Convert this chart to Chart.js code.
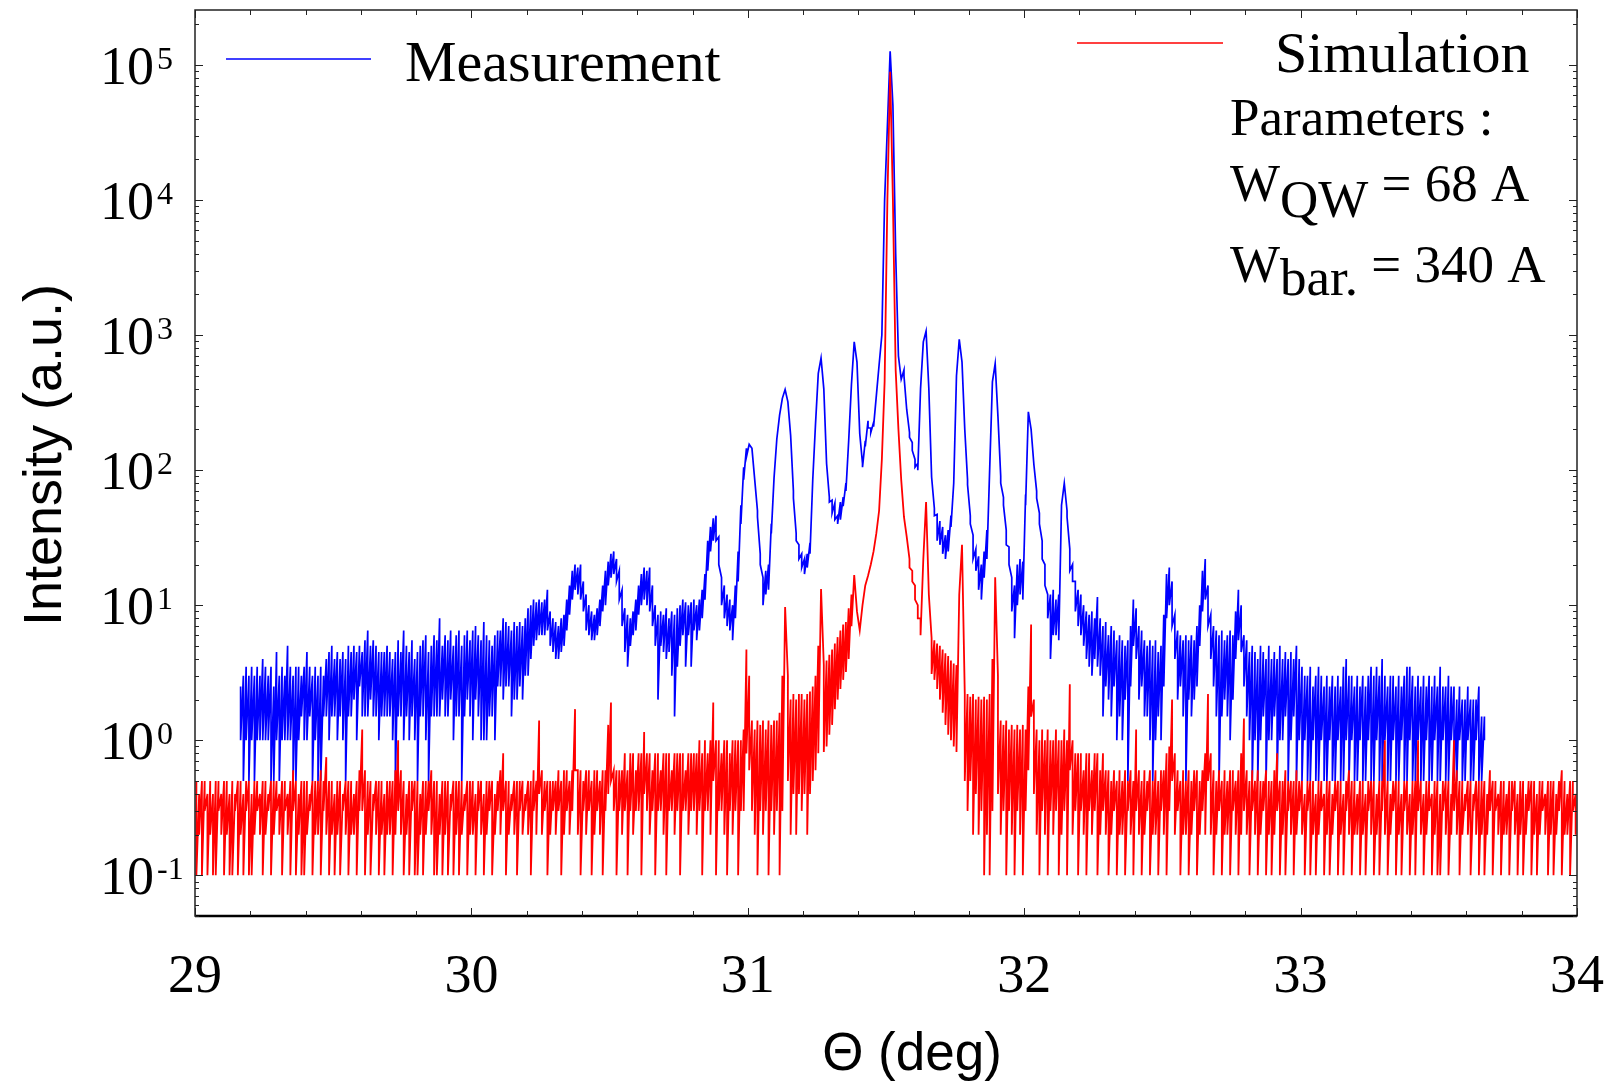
<!DOCTYPE html>
<html>
<head>
<meta charset="utf-8">
<title>XRD scan</title>
<script src="https://cdn.jsdelivr.net/npm/chart.js@4.4.0/dist/chart.umd.min.js"></script>
<style>
  html, body { margin: 0; padding: 0; background: #fff; }
  #wrap { width: 1609px; height: 1081px; }
</style>
</head>
<body>
<div id="wrap"><canvas id="chart" width="1609" height="1081"></canvas></div>
<script>
// Sampling grid of the scans (deg): one hi/lo pair every 0.01 deg
const thetaStep = 0.01;
const measStart = 29.165;
const simStart = 29.005;

// Axis labels
const xTickLabels = ['29', '30', '31', '32', '33', '34'];
const yTickExponents = ['-1', '0', '1', '2', '3', '4', '5'];

// Measurement (blue): upper and lower edge of the trace in each 0.01 deg step
const measHi29 = [2.5,3.0,3.5,3.0,3.5,3.0,3.5,3.0,4.0,3.5,
  3.0,3.5,2.5,4.5,3.0,3.5,3.0,5.0,3.5,3.0,
  3.5,3.5,3.0,3.5,4.5,3.5,3.0,3.5,3.0,3.5,
  3.0,4.0,4.5,5.0,4.0,4.5,4.0,4.5,4.0,5.0,
  4.5,5.0,4.5,5.0,4.5,5.5,6.5,5.0,5.5,5.0,
  4.5,4.5,4.5,5.0,4.5,4.0,4.5,5.5,4.5,6.5,
  5.0,4.5,5.5,4.0,4.5,5.0,5.5,6.0,4.5,5.0,
  6.0,5.5,8.0,5.0,6.0,5.5,6.5,5.0,6.0,6.5,
  5.0,6.0,6.5,5.5];
const measLo29 = [1.0,0.5,1.0,0.5,1.0,0.5,1.0,1.0,1.0,1.0,
  1.0,0.5,0.5,1.0,0.5,1.0,1.0,1.0,1.0,0.5,
  0.5,1.0,1.5,1.0,1.0,1.5,0.5,1.0,0.5,0.5,
  1.5,1.5,1.0,1.5,1.5,1.0,1.5,1.0,0.5,1.5,
  1.5,2.0,1.0,2.5,1.5,1.5,1.5,2.0,1.5,1.5,
  1.0,1.5,1.5,1.5,1.5,1.0,0.5,1.5,1.5,1.0,
  1.5,1.0,1.5,1.0,0.5,1.5,1.5,1.0,0.5,1.5,
  1.5,1.5,1.5,2.0,1.5,1.5,2.0,1.0,1.5,1.5,
  0.5,1.5,2.0,1.5];

const measHi30 = [6.5,7.0,6.0,5.5,7.5,6.0,5.5,5.0,6.0,6.5,
  6.5,8.0,7.5,7.0,6.5,7.5,7.0,7.5,7.0,8.0,
  9.5,10,11,10.5,11,10.5,11,13,9,8,
  7.5,7,8,8.5,11,14,18,20,19,20,
  15,12,10,9,8.5,9.5,11,14,18,21,
  24,25,22,18,13,9.5,8.5,8,9,11,
  14,17,19,18,19,14,10,8.5,9,8.5,
  9.5,8,9,8.5,9.5,10,11,10.5,10,10.5,
  11,10,11,13,17,30,38,44,46,32,
  16,14,12,11,10,14,25,55,105,145];
const measLo30 = [1.0,2.0,1.5,1.0,1.0,1.0,1.5,1.5,1.0,2.5,
  2.5,2.0,2.5,2.5,1.5,2.0,2.0,2.5,2.0,3.0,
  3.0,4.0,5.0,5.5,6.0,6.0,6.0,6.5,5.0,4.5,
  4.0,4.0,4.5,5.0,6.5,8.5,11,13,12,11,
  9,6.5,6,5.5,5.5,6,7,9,10,14,
  16,17,15,11,7,4.5,3.5,5,6,6.5,
  8.5,10,11,10,9,7,5,2,5,4.5,
  4,4.5,3,1.5,3.5,5,6,3.5,6,3.5,
  6.5,5.5,6.5,8,11,18,25,30,30,20,
  10,8,7,6.5,5.5,8,15,40,85,125];

const measHi31 = [155,145,85,50,24,16,18,20,40,88,
  170,255,340,395,320,180,70,34,28,24,
  22,24,29,85,220,520,676,400,112,63,
  60,57,46,58,63,80,165,430,890,630,
  186,112,165,232,205,225,355,600,1000,10000,
  35000,126000,50000,4000,700,470,550,280,190,160,
  120,112,400,890,1070,400,89,52,47,42,
  38,33,36,46,80,500,930,630,200,85,
  46,33,26,23,20,25,36,100,450,615,
  250,90,63,36,27,16,14,20,22,21];
const measLo31 = [null,null,null,45,20,10,12,13,34,null,
  null,null,null,null,null,null,62,30,22,19,
  17,19,24,null,null,null,null,null,null,58,
  48,43,40,43,54,70,null,null,null,null,
  null,105,150,205,190,210,null,null,null,null,
  null,null,null,null,null,null,500,null,175,140,
  105,100,null,null,null,null,null,46,30,28,
  24,22,25,38,null,null,null,null,null,78,
  40,22,18,13,11,16,22,null,null,null,
  null,80,55,28,20,9,5.7,10,12,11];

const measHi32 = [66,270,200,110,70,48,30,20,12,12,
  13,11,12,55,80,50,26,20,15,13,
  12,10,9,8.5,9,8,11.5,8,7,7.5,
  6,7,6.5,5.5,6,5.5,5,5.5,7,11,
  9.5,7,6.5,5.5,5,5.5,5,5.5,4.5,5,
  8.5,17,19,15,8.5,6.5,6,5.5,6,5.5,
  6,5.5,7,10,18,22,14,8.5,7,6.5,
  6,6.5,5.5,6,6.5,6,9,13,10,6,
  5.5,4.5,5,4.5,4,5,4.5,4,5,4,
  4.5,4,5,4,4.5,4,4.5,4,5,4];
const measLo32 = [55,null,null,null,62,40,22,14,8,4,
  6,6,5.5,null,null,45,18,15,9,7,
  6,5,4,3.5,3,4,3.5,3,1.5,2.5,
  2,1.5,2.5,1,1.5,1,2,0.5,2.5,5,
  4,2,2.5,1.5,1.5,1,0.5,1,1.5,1,
  2.5,8,10,7,4,2,2.5,1.5,0.5,2,
  1.5,2,2.5,5,9,11,7,4,2.5,1.5,
  0.5,1.5,2,1.5,1,2,4,5.5,4.5,2.5,
  1.5,1,0.5,1,0.5,1,1.5,0.5,1,1,
  1.5,0.5,1,1,1.5,0.5,1,1.5,0.5,1];

const measHi33 = [3.5,3.0,3.0,3.5,2.5,3.0,3.5,3.0,2.5,3.0,
  2.5,3.0,2.5,3.0,2.5,3.5,4.0,3.0,3.0,2.5,
  3.0,2.5,3.0,2.5,3.0,3.5,3.0,3.5,3.0,4.0,
  3.0,2.5,3.0,3.0,2.5,3.0,2.5,3.0,3.5,3.5,
  3.0,2.5,3.0,2.5,3.0,2.5,3.0,2.5,3.0,2.5,
  3.5,2.5,2.5,3.0,2.5,2.5,2.0,2.5,2.0,2.0,
  2.5,2.0,2.0,2.0,2.5,1.5,1.5];
const measLo33 = [0.5,1.0,0.5,0.5,1.0,0.5,0.5,1.0,0.5,0.5,
  1.0,0.5,0.5,1.0,0.5,0.5,1.0,0.5,1.0,0.5,
  0.5,1.0,0.5,0.5,1.0,0.5,0.5,1.0,0.5,0.5,
  1.0,0.5,0.5,1.0,0.5,0.5,1.0,0.5,0.5,1.0,
  0.5,0.5,1.0,0.5,0.5,1.0,0.5,0.5,1.0,0.5,
  0.5,1.0,0.5,0.5,1.0,0.5,0.5,1.0,0.5,0.5,
  1.0,0.5,0.5,1.0,0.5,0.5,1.0];

// Simulation (red): upper and lower edge of the trace in each 0.01 deg step
const simHi29 = [0.5,0.4,0.5,0.5,0.4,0.5,0.4,0.5,0.5,0.4,
  0.5,0.5,0.4,0.5,0.4,0.5,0.5,0.4,0.5,0.5,
  0.4,0.5,0.5,0.4,0.5,0.5,0.4,0.5,0.5,0.5,
  0.4,0.5,0.5,0.4,0.5,0.6,0.5,0.4,0.5,0.5,
  0.5,0.4,0.5,0.5,0.5,0.6,0.5,0.75,0.5,0.5,
  0.4,0.5,0.5,0.4,0.5,0.5,0.5,0.4,0.5,0.6,
  1.2,0.6,0.5,0.5,0.4,0.5,0.5,0.5,0.4,0.5,
  0.5,0.5,0.6,1.0,0.6,0.5,0.4,0.5,0.5,0.5,
  0.5,0.4,0.5,0.5,0.5,0.6,0.5,0.5,0.4,0.5,
  0.5,0.5,0.4,0.5,0.5,0.5,0.5,0.4,0.5,0.5];
const simLo29 = [0.1,0.2,0.1,0.3,0.1,0.2,0.1,0.1,0.3,0.2,
  0.1,0.2,0.1,0.1,0.3,0.1,0.2,0.1,0.3,0.1,
  0.1,0.2,0.3,0.2,0.1,0.2,0.3,0.1,0.2,0.3,
  0.2,0.1,0.3,0.2,0.1,0.3,0.1,0.2,0.1,0.1,
  0.2,0.3,0.1,0.2,0.2,0.1,0.3,0.2,0.1,0.2,
  0.1,0.2,0.1,0.3,0.2,0.1,0.2,0.2,0.1,0.3,
  0.3,0.1,0.2,0.1,0.3,0.2,0.1,0.2,0.1,0.2,
  0.2,0.1,0.2,0.3,0.2,0.1,0.2,0.1,0.3,0.1,
  0.1,0.2,0.1,0.2,0.3,0.2,0.1,0.1,0.2,0.1,
  0.2,0.1,0.3,0.1,0.2,0.1,0.2,0.3,0.1,0.2];

const simHi30 = [0.5,0.4,0.5,0.5,0.4,0.5,0.5,0.5,0.4,0.5,
  0.6,0.8,0.5,0.5,0.4,0.5,0.5,0.5,0.5,0.4,
  0.5,0.5,0.6,0.5,1.4,0.6,0.5,0.5,0.5,0.5,
  0.5,0.6,0.5,0.6,0.6,0.5,0.6,1.7,0.6,0.6,
  0.5,0.6,0.6,0.5,0.6,0.6,0.5,0.6,0.6,1.3,
  1.9,0.6,0.6,0.6,0.6,0.8,0.6,0.8,0.8,0.6,
  0.8,0.8,1.15,0.8,0.8,0.6,0.8,0.8,0.6,0.8,
  0.8,0.8,0.6,0.8,0.8,0.8,0.8,0.6,0.8,0.8,
  0.8,0.8,1.0,0.8,1.0,0.8,1.0,1.9,1.0,1.0,
  0.8,1.0,1.0,0.8,1.0,1.0,1.0,1.0,1.2,4.7];
const simLo30 = [0.2,0.1,0.3,0.2,0.1,0.2,0.3,0.1,0.2,0.3,
  0.2,0.3,0.1,0.2,0.3,0.2,0.1,0.3,0.2,0.3,
  0.2,0.1,0.3,0.2,0.4,0.2,0.3,0.1,0.2,0.3,
  0.2,0.3,0.1,0.2,0.3,0.2,0.3,0.6,0.2,0.1,
  0.3,0.2,0.3,0.1,0.2,0.3,0.2,0.1,0.3,0.4,
  0.5,0.3,0.1,0.3,0.2,0.3,0.1,0.3,0.2,0.3,
  0.3,0.1,0.4,0.3,0.2,0.3,0.1,0.3,0.3,0.2,
  0.1,0.3,0.3,0.2,0.3,0.1,0.3,0.3,0.2,0.3,
  0.3,0.2,0.3,0.1,0.3,0.3,0.2,0.5,0.1,0.3,
  0.3,0.2,0.1,0.3,0.2,0.3,0.1,0.3,0.3,0.8];

const simHi31 = [3.0,1.4,1.2,1.4,1.3,1.4,1.2,1.4,1.3,1.4,
  1.4,1.6,3.0,9.7,3.0,2.0,2.2,2.0,2.2,2.2,
  2.0,2.2,2.3,2.5,3.0,5.0,13.2,3.6,3.9,4.3,
  4.7,5.2,5.8,6.5,7.2,7.5,9.5,12,16.7,9,
  6.5,10,14,16.5,20,25,34,50,120,450,
  10000,89000,10000,550,200,85,45,32,22,18,
  14,10,8,22,58,12,5.7,5.5,5.2,5.0,
  4.7,4.4,4.2,3.9,3.7,3.6,12,28,2.2,2.2,
  2.1,2.2,2.0,2.1,2.0,2.1,2.0,2.2,4.0,16.1,
  3.0,1.4,1.3,1.4,1.2,1.3,1.2,1.3,1.2,1.3];
const simLo31 = [0.6,0.3,0.2,0.1,0.3,0.2,0.3,0.1,0.3,0.2,
  0.3,0.1,0.3,null,0.5,0.2,0.4,0.2,0.4,0.3,
  0.4,0.2,0.4,0.5,0.6,0.8,null,0.82,0.9,1.1,
  1.3,1.7,2.0,2.4,2.8,3.2,4.0,7,null,null,
  null,null,null,null,null,null,null,null,null,null,
  null,null,null,null,null,null,null,null,19,15,
  11,8,6,null,null,null,3.1,2.8,2.4,2.0,
  1.6,1.3,1.1,1.0,0.9,0.82,null,null,0.5,0.3,
  0.5,0.2,0.4,0.2,0.3,0.1,0.2,0.1,0.3,null,
  0.4,0.2,0.3,0.1,0.3,0.2,0.1,0.3,0.2,0.1];

const simHi32 = [1.2,2.5,7.2,2.0,1.2,1.0,1.2,1.0,1.2,1.0,
  1.0,1.2,1.0,1.0,1.2,1.0,2.6,1.0,0.8,0.8,
  0.8,0.6,0.8,0.8,0.6,0.8,0.8,0.6,0.8,0.6,
  0.6,0.5,0.6,0.5,0.6,0.5,0.6,0.5,0.6,0.5,
  1.2,0.6,0.5,0.6,0.5,0.6,0.5,0.6,0.5,0.6,
  0.6,0.8,0.9,2.0,0.8,0.6,0.5,0.6,0.5,0.6,
  0.5,0.6,0.6,0.5,0.6,0.8,2.2,0.8,0.6,0.5,
  0.6,0.5,0.6,0.5,0.6,0.6,0.5,0.6,0.8,1.45,
  0.6,0.5,0.6,0.5,0.6,0.5,0.5,0.6,0.5,0.5,
  0.6,0.8,0.5,0.5,0.6,0.5,0.5,0.5,0.6,0.5];
const simLo32 = [0.3,0.6,1.5,0.4,0.2,0.1,0.3,0.2,0.1,0.3,
  0.2,0.3,0.1,0.2,0.3,0.1,0.6,0.2,0.3,0.1,
  0.3,0.2,0.1,0.3,0.2,0.3,0.1,0.2,0.3,0.2,
  0.1,0.2,0.3,0.1,0.2,0.2,0.1,0.3,0.2,0.1,
  0.3,0.2,0.1,0.2,0.3,0.1,0.2,0.2,0.1,0.3,
  0.2,0.1,0.3,0.5,0.2,0.3,0.1,0.2,0.2,0.1,
  0.2,0.3,0.1,0.2,0.3,0.2,0.5,0.2,0.1,0.2,
  0.3,0.1,0.2,0.2,0.1,0.3,0.2,0.1,0.2,0.3,
  0.2,0.1,0.3,0.2,0.1,0.2,0.3,0.1,0.2,0.1,
  0.2,0.3,0.1,0.2,0.1,0.3,0.2,0.1,0.2,0.3];

const simHi33 = [0.5,0.4,0.5,0.5,0.5,0.4,0.5,0.5,0.4,0.5,
  0.5,0.4,0.5,0.5,0.5,0.4,0.5,0.6,0.5,0.5,
  0.4,0.5,0.5,0.4,0.5,0.5,0.5,0.4,0.5,0.5,
  1.0,0.5,0.4,0.5,0.5,0.5,0.4,0.5,0.5,0.4,
  0.5,0.5,1.0,0.5,0.4,0.5,0.5,0.4,0.5,0.5,
  0.4,0.5,0.5,0.5,0.4,1.0,0.6,0.5,0.5,0.4,
  0.5,0.5,0.4,0.5,0.5,0.5,0.5,0.4,0.6,0.5,
  0.5,0.4,0.5,0.5,0.4,0.5,0.5,0.5,0.4,0.5,
  0.5,0.4,0.5,0.5,0.5,0.4,0.5,0.5,0.4,0.5,
  0.5,0.5,0.4,0.5,0.6,0.5,0.4,0.5,0.5,0.4];
const simLo33 = [0.2,0.1,0.3,0.1,0.2,0.1,0.2,0.3,0.1,0.2,
  0.1,0.2,0.3,0.1,0.2,0.1,0.3,0.2,0.1,0.2,
  0.2,0.1,0.2,0.1,0.3,0.2,0.1,0.2,0.1,0.3,
  0.2,0.1,0.2,0.3,0.1,0.2,0.1,0.3,0.2,0.1,
  0.2,0.1,0.3,0.2,0.1,0.2,0.3,0.1,0.2,0.1,
  0.1,0.3,0.2,0.1,0.2,0.3,0.2,0.1,0.2,0.3,
  0.2,0.1,0.3,0.2,0.1,0.2,0.1,0.2,0.3,0.1,
  0.3,0.2,0.1,0.2,0.2,0.1,0.3,0.2,0.1,0.2,
  0.1,0.2,0.3,0.1,0.2,0.1,0.2,0.3,0.2,0.1,
  0.2,0.1,0.2,0.3,0.1,0.2,0.2,0.1,0.3,0.2];

// Turn hi/lo pairs into a vertical stroke per step
function buildPoints(start, his, los) {
  const pts = [];
  for (let i = 0; i < his.length; i++) {
    const x = +(start + i * thetaStep).toFixed(3);
    pts.push({ x: x, y: his[i] });
    if (los[i] != null) pts.push({ x: x, y: los[i] });
  }
  return pts;
}

const measPoints = buildPoints(measStart,
  [].concat(measHi29, measHi30, measHi31, measHi32, measHi33),
  [].concat(measLo29, measLo30, measLo31, measLo32, measLo33));
const simPoints = buildPoints(simStart,
  [].concat(simHi29, simHi30, simHi31, simHi32, simHi33),
  [].concat(simLo29, simLo30, simLo31, simLo32, simLo33));

const SERIF = '"Liberation Serif", "Times New Roman", serif';
const SANS = '"Liberation Sans", Arial, sans-serif';

// Frame, ticks, labels, legend and annotation
const decorations = {
  id: 'decorations',
  afterDraw(chart) {
    const ctx = chart.ctx;
    const a = chart.chartArea;
    const xs = chart.scales.x;
    const ys = chart.scales.y;
    ctx.save();

    // frame
    ctx.strokeStyle = '#222';
    ctx.lineWidth = 1.5;
    ctx.strokeRect(a.left, a.top, a.right - a.left, a.bottom - a.top);
    ctx.lineWidth = 2.5;
    ctx.strokeStyle = '#000';
    ctx.beginPath();
    ctx.moveTo(a.left, a.bottom);
    ctx.lineTo(a.right, a.bottom);
    ctx.stroke();

    // x ticks (inward, top and bottom)
    ctx.lineWidth = 1;
    ctx.strokeStyle = '#222';
    ctx.beginPath();
    for (let k = 0; k <= 25; k++) {
      const v = 29 + k * 0.2;
      const px = Math.round(xs.getPixelForValue(v)) + 0.5;
      const len = (k % 5 === 0) ? 8 : 5;
      ctx.moveTo(px, a.bottom); ctx.lineTo(px, a.bottom - len);
      ctx.moveTo(px, a.top); ctx.lineTo(px, a.top + len);
    }
    // y ticks (inward, left and right)
    for (let e = -2; e <= 5; e++) {
      for (let m = 1; m <= 9; m++) {
        const v = m * Math.pow(10, e);
        if (v < ys.min || v > ys.max) continue;
        const py = Math.round(ys.getPixelForValue(v)) + 0.5;
        const len = (m === 1) ? 8 : 4;
        ctx.moveTo(a.left, py); ctx.lineTo(a.left + len, py);
        ctx.moveTo(a.right, py); ctx.lineTo(a.right - len, py);
      }
    }
    ctx.stroke();

    // x tick labels
    ctx.fillStyle = '#000';
    ctx.font = '54px ' + SERIF;
    ctx.textAlign = 'center';
    ctx.textBaseline = 'alphabetic';
    xTickLabels.forEach(function (t) {
      ctx.fillText(t, xs.getPixelForValue(Number(t)), 992);
    });

    // y tick labels: 10 with exponent
    ctx.textAlign = 'left';
    yTickExponents.forEach(function (ex) {
      const py = ys.getPixelForValue(Math.pow(10, Number(ex)));
      ctx.font = '54px ' + SERIF;
      ctx.fillText('10', 100, py + 19);
      const w = ctx.measureText('10').width;
      ctx.font = '32px ' + SERIF;
      ctx.fillText(ex, 100 + w + 3, py + 4);
    });

    // axis titles
    ctx.font = '53px ' + SANS;
    ctx.textAlign = 'center';
    ctx.fillText('\u0398 (deg)', 912, 1070);
    ctx.save();
    ctx.translate(61, 455);
    ctx.rotate(-Math.PI / 2);
    ctx.font = '54px ' + SANS;
    ctx.fillText('Intensity (a.u.)', 0, 0);
    ctx.restore();

    // legend
    ctx.lineWidth = 1.5;
    ctx.strokeStyle = '#0000ff';
    ctx.beginPath(); ctx.moveTo(226, 59); ctx.lineTo(371, 59); ctx.stroke();
    ctx.strokeStyle = '#ff0000';
    ctx.beginPath(); ctx.moveTo(1077, 43); ctx.lineTo(1223, 43); ctx.stroke();
    ctx.textAlign = 'left';
    ctx.font = '58px ' + SERIF;
    ctx.fillText('Measurement', 405, 81);
    ctx.fillText('Simulation', 1275, 72);

    // simulation parameters
    ctx.font = '53px ' + SERIF;
    ctx.fillText('Parameters :', 1230, 135);
    function subLine(x, base, main, sub, rest, drop) {
      ctx.font = '53px ' + SERIF;
      ctx.fillText(main, x, base);
      x += ctx.measureText(main).width;
      ctx.fillText(sub, x, base + drop);
      x += ctx.measureText(sub).width;
      ctx.fillText(rest, x, base);
    }
    subLine(1230, 201, 'W', 'QW', ' = 68 A', 16);
    subLine(1230, 282, 'W', 'bar.', ' = 340 A', 13);

    ctx.restore();
  }
};

new Chart(document.getElementById('chart').getContext('2d'), {
  type: 'line',
  data: {
    datasets: [
      {
        label: 'Simulation',
        data: simPoints,
        borderColor: '#ff0000',
        borderWidth: 1.8,
        pointRadius: 0,
        tension: 0,
        fill: false,
        order: 0
      },
      {
        label: 'Measurement',
        data: measPoints,
        borderColor: '#0000ff',
        borderWidth: 1.7,
        pointRadius: 0,
        tension: 0,
        fill: false,
        order: 1
      }
    ]
  },
  options: {
    responsive: false,
    animation: false,
    devicePixelRatio: 1,
    layout: { padding: { left: 195, right: 32, top: 10, bottom: 165 } },
    plugins: {
      legend: { display: false },
      tooltip: { enabled: false }
    },
    scales: {
      x: { type: 'linear', min: 29, max: 34, display: false },
      y: { type: 'logarithmic', min: 0.05, max: 255000, display: false }
    }
  },
  plugins: [decorations]
});
</script>
</body>
</html>
